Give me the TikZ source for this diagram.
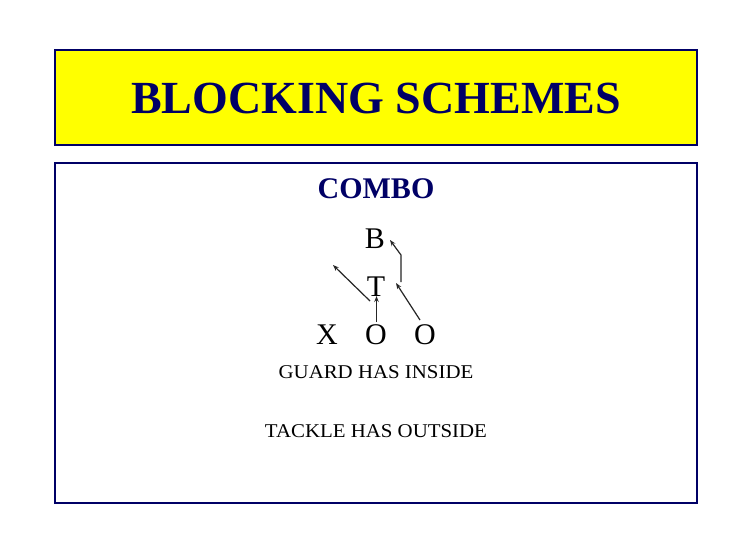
\documentclass[tikz,border=0pt]{standalone}
\usepackage{fontspec}
\setmainfont{Liberation Serif}
\usetikzlibrary{arrows.meta}
\definecolor{navy}{RGB}{0,0,102}
\definecolor{titleyellow}{RGB}{255,255,0}
\begin{document}
\begin{tikzpicture}[x=1pt,y=-1pt,
  panel/.style={draw=navy,line width=2pt},
  player/.style={font=\fontsize{30}{30}\selectfont,inner sep=0pt,anchor=base},
  note/.style={font=\fontsize{19.5}{19.5}\selectfont,inner sep=0pt,anchor=base,xscale=1.07},
  route/.style={line width=1.2pt,draw=black!85,-{Stealth[length=6pt,width=4.5pt]}}]
\useasboundingbox (0,0) rectangle (752,546);
\fill[white] (0,0) rectangle (752,546);
% boxes
\draw[panel,fill=titleyellow] (55,50) rectangle (697,145);
\node[inner sep=0pt,anchor=base,text=navy,font=\fontsize{46}{46}\selectfont\bfseries] (title) at (376,113) {BLOCKING SCHEMES};
\draw[panel,fill=white] (55,163) rectangle (697,503);
\node[inner sep=0pt,anchor=base,text=navy,font=\fontsize{30}{30}\selectfont\bfseries] (combo) at (376,198) {COMBO};
% players
\node[player] (B) at (375,248) {B};
\node[player] (T) at (376,296) {T};
\node[player] (X) at (327,344) {X};
\node[player] (G) at (376,344) {O};
\node[player] (K) at (425,344) {O};
% route points
\coordinate (g1) at (370,301);
\coordinate (g2) at (333,265);
\coordinate (gt) at (376.5,322);
\coordinate (tb) at (376.5,296);
\coordinate (k0) at (420,320);
\coordinate (k1) at (396,283);
\coordinate (k2) at (401,282);
\coordinate (k3) at (401,255);
\coordinate (k4) at (390,240);
\draw[route] (g1) -- (g2);
\draw[route] (gt) -- (tb);
\draw[route] (k0) -- (k1);
\draw[route] (k2) -- (k3) -- (k4);
% notes
\node[note] (n1) at (376,378) {GUARD HAS INSIDE};
\node[note] (n2) at (376,437) {TACKLE HAS OUTSIDE};
\end{tikzpicture}
\end{document}
